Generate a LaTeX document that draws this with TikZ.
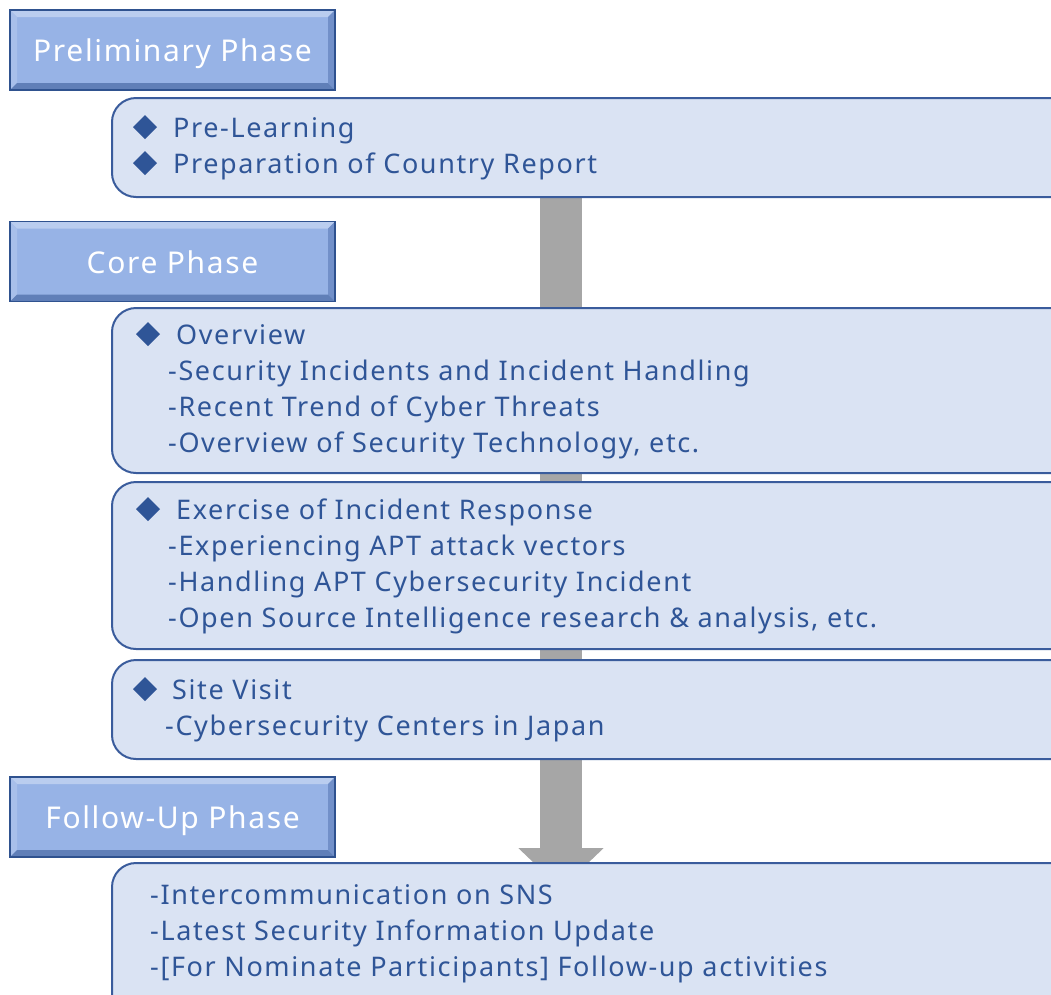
\documentclass[tikz,border=0pt]{standalone}
\usepackage{fontspec}
\setmainfont{Noto Sans}
\newfontfamily\spacedfont{Noto Sans}[LetterSpace=5.5]
\newfontfamily\bodyfont{Noto Sans}[LetterSpace=6]
\usetikzlibrary{arrows.meta}
\definecolor{tx}{HTML}{2F5597}
\definecolor{bodyfill}{HTML}{DAE3F3}
\definecolor{bodyline}{HTML}{3A5C9C}
\definecolor{hdr}{HTML}{97B3E6}
\definecolor{hdrL}{HTML}{BACDEF}
\definecolor{hdrM}{HTML}{A8BFEA}
\definecolor{hdrD}{HTML}{7290C9}
\definecolor{hdrDD}{HTML}{607FB8}
\definecolor{hdrline}{HTML}{2F528F}
\definecolor{arrowgray}{HTML}{A6A6A6}
\tikzset{
  phase/.style={minimum width=325pt, minimum height=80pt, inner sep=0pt,
    fill=hdr, draw=hdrline, line width=1.2pt, text=white,
    font=\spacedfont\fontsize{30}{36}\selectfont, text height=23pt, text depth=0pt,
    path picture={
      \fill[hdrL] (path picture bounding box.north west) -- (path picture bounding box.north east)
        -- ([xshift=-7pt,yshift=-7pt]path picture bounding box.north east)
        -- ([xshift=7pt,yshift=-7pt]path picture bounding box.north west) -- cycle;
      \fill[hdrM] (path picture bounding box.north west) -- ([xshift=7pt,yshift=-7pt]path picture bounding box.north west)
        -- ([xshift=7pt,yshift=7pt]path picture bounding box.south west)
        -- (path picture bounding box.south west) -- cycle;
      \fill[hdrD] (path picture bounding box.north east) -- ([xshift=-7pt,yshift=-7pt]path picture bounding box.north east)
        -- ([xshift=-7pt,yshift=7pt]path picture bounding box.south east)
        -- (path picture bounding box.south east) -- cycle;
      \fill[hdrDD] (path picture bounding box.south west) -- ([xshift=7pt,yshift=7pt]path picture bounding box.south west)
        -- ([xshift=-7pt,yshift=7pt]path picture bounding box.south east)
        -- (path picture bounding box.south east) -- cycle;
    }},
  body/.style={rectangle, rounded corners=24pt, fill=bodyfill, draw=bodyline,
    line width=2pt, minimum width=1000pt, inner sep=0pt, anchor=north west},
  line/.style={anchor=base west, inner sep=0pt, text=tx, font=\bodyfont\fontsize{27}{32}\selectfont}
}
\newcommand{\dmd}[2]{\fill[tx] (#1-12,#2) -- (#1,#2-12) -- (#1+12,#2) -- (#1,#2+12) -- cycle;}
\begin{document}
\begin{tikzpicture}[x=1pt,y=-1pt]
\useasboundingbox (0,0) rectangle (1051,994);
\clip (0,0) rectangle (1051,994);
% arrow behind everything
\coordinate (astart) at (561,150);
\coordinate (atip) at (561,889);
\draw[arrowgray, line width=42pt, -{Triangle[width=83pt,length=41pt]}] (astart) -- (atip);
% body boxes
\node[body, minimum height=99pt] (b1) at (111,97) {};
\node[body, minimum height=165pt] (b2) at (111,307) {};
\node[body, minimum height=167pt] (b3) at (111,481) {};
\node[body, minimum height=99pt] (b4) at (111,659) {};
\node[body, minimum height=160pt] (b5) at (111,862) {};
% headers
\node[phase] (h1) at (172.5,50) {Preliminary Phase};
\node[phase] (h2) at (172.5,261.5) {Core Phase};
\node[phase] (h3) at (172.5,817) {Follow-Up Phase};
% box 1
\dmd{145}{127}
\node[line] (t11) at (173,137) {Pre-Learning};
\dmd{145}{163}
\node[line] (t12) at (173,173) {Preparation of Country Report};
% box 2
\dmd{148}{334}
\node[line] (t21) at (176,344) {Overview};
\node[line] (t22) at (168,380) {-Security Incidents and Incident Handling};
\node[line] (t23) at (168,416) {-Recent Trend of Cyber Threats};
\node[line] (t24) at (168,452) {-Overview of Security Technology, etc.};
% box 3
\dmd{148}{509}
\node[line] (t31) at (176,519) {Exercise of Incident Response};
\node[line] (t32) at (168,555) {-Experiencing APT attack vectors};
\node[line] (t33) at (168,591) {-Handling APT Cybersecurity Incident};
\node[line] (t34) at (168,627) {-Open Source Intelligence research \& analysis, etc.};
% box 4
\dmd{145}{689}
\node[line] (t41) at (172,699) {Site Visit};
\node[line] (t42) at (165,735) {-Cybersecurity Centers in Japan};
% box 5
\node[line] (t51) at (150,904) {-Intercommunication on SNS};
\node[line] (t52) at (150,940) {-Latest Security Information Update};
\node[line] (t53) at (150,976) {-[For Nominate Participants] Follow-up activities};
\end{tikzpicture}
\end{document}
